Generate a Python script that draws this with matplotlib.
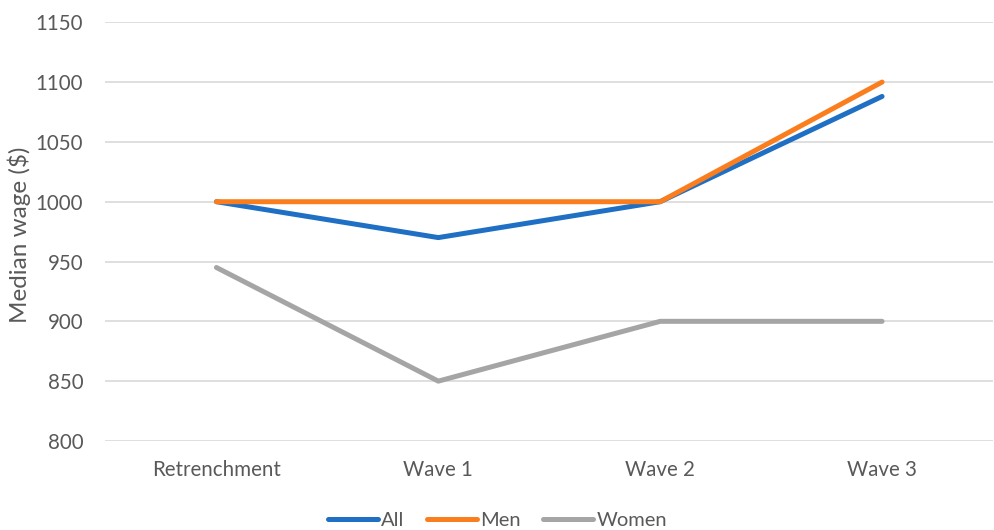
import matplotlib
matplotlib.use('Agg')
import matplotlib.pyplot as plt

categories = ['Retrenchment', 'Wave 1', 'Wave 2', 'Wave 3']
all_wage = [1000, 970, 1000, 1088]
men_wage = [1000, 1000, 1000, 1100]
women_wage = [945, 850, 900, 900]

plt.rcParams['font.family'] = ['Lato', 'DejaVu Sans']
text_color = '#595959'

fig = plt.figure(figsize=(9.95, 5.30), dpi=100)
ax = fig.add_axes([0.106, 0.168, 0.892, 0.79])

x = range(len(categories))
series = [
    ('All', all_wage, '#1f6fc5'),
    ('Men', men_wage, '#fb7e1e'),
    ('Women', women_wage, '#a5a5a5'),
]
for label, vals, color in series:
    ax.plot(x, vals, color=color, lw=3.6, label=label,
            solid_capstyle='round', solid_joinstyle='round', zorder=3)

ax.set_xlim(-0.5, len(categories) - 0.5)
ax.set_ylim(800, 1150)
ax.set_yticks(range(800, 1151, 50))
ax.set_xticks(list(x))
ax.set_xticklabels(categories)
ax.grid(axis='y', color='#d9d9d9', lw=1.2, zorder=0)
for s in ax.spines.values():
    s.set_visible(False)
ax.tick_params(length=0, labelsize=14.8, colors=text_color)
ax.tick_params(axis='y', pad=16)
ax.tick_params(axis='x', pad=14)

# y-axis title placed in figure coordinates so it stays inside the canvas
fig.text(19 / 995, 1 - 235 / 530, 'Median wage ($)', rotation=90,
         ha='center', va='center', fontsize=17.5, color=text_color)

leg = fig.legend(loc='center', ncol=3, frameon=False,
                 bbox_to_anchor=(0.5, 1 - 520 / 530), fontsize=14.5,
                 handlelength=2.5, handletextpad=0.15, columnspacing=1.1,
                 labelcolor=text_color)

fig.savefig('out.png', dpi=100)
